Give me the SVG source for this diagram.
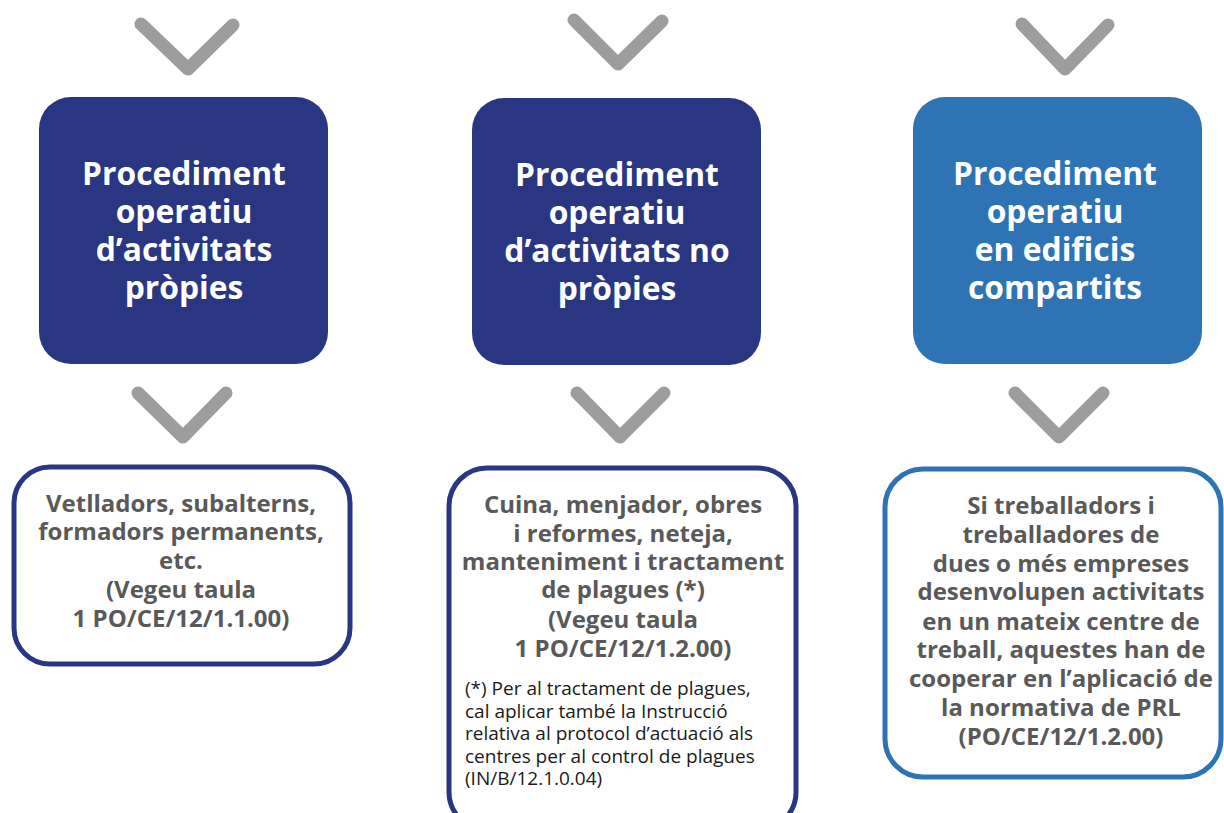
<svg xmlns="http://www.w3.org/2000/svg" width="1224" height="813" viewBox="0 0 1224 813">
<style>
.chev{fill:none;stroke:#9d9d9c;stroke-width:13;stroke-linecap:round;stroke-linejoin:round}
.dark{fill:#293682}
.light{fill:#2e74b5}
.ob{fill:#ffffff;stroke-width:5}
.t{font-family:"Open Sans","Noto Sans","Liberation Sans",sans-serif;font-weight:700;fill:#ffffff;font-size:31.8px;text-anchor:middle}
.b{font-family:"Open Sans","Noto Sans","Liberation Sans",sans-serif;font-weight:700;fill:#595959;font-size:24px;text-anchor:middle}
.n{font-family:"Open Sans","Noto Sans","Liberation Sans",sans-serif;font-weight:400;fill:#1a1a1a;font-size:19px}
</style>
<rect width="1224" height="813" fill="#ffffff"/>
<g id="connectors">
<polyline class="chev" points="141,24 188,69 233,25"/>
<polyline class="chev" points="574,20 618,64 662,21"/>
<polyline class="chev" points="1022,24 1065,69 1108,25"/>
<polyline class="chev" points="138,393 183,437 226,393"/>
<polyline class="chev" points="577,393 620,437 664,393"/>
<polyline class="chev" points="1015,393 1059,437 1103,393"/>
</g>
<g id="node-propies">
<rect class="dark" x="39" y="97" width="289" height="267" rx="32"/>
<text class="t" x="184" y="185">Procediment</text>
<text class="t" x="184" y="223">operatiu</text>
<text class="t" x="184" y="261">d’activitats</text>
<text class="t" x="184" y="299">pròpies</text>
</g>
<g id="node-no-propies">
<rect class="dark" x="472" y="98" width="289" height="267" rx="32"/>
<text class="t" x="617" y="186">Procediment</text>
<text class="t" x="617" y="224">operatiu</text>
<text class="t" x="617" y="262">d’activitats no</text>
<text class="t" x="617" y="300">pròpies</text>
</g>
<g id="node-compartits">
<rect class="light" x="913" y="97" width="289" height="267" rx="32"/>
<text class="t" x="1055" y="185">Procediment</text>
<text class="t" x="1055" y="223">operatiu</text>
<text class="t" x="1055" y="261">en edificis</text>
<text class="t" x="1055" y="299">compartits</text>
</g>
<g id="node-vetlladors">
<rect class="ob" x="14" y="467" width="336" height="197" rx="36" stroke="#293682"/>
<text class="b" x="181" y="512">Vetlladors, subalterns,</text>
<text class="b" x="181" y="540">formadors permanents,</text>
<text class="b" x="181" y="569">etc.</text>
<text class="b" x="181" y="598">(Vegeu taula</text>
<text class="b" x="181" y="627">1 PO/CE/12/1.1.00)</text>
</g>
<g id="node-cuina">
<rect class="ob" x="449" y="468" width="347" height="362" rx="38" stroke="#293682"/>
<text class="b" x="623" y="513">Cuina, menjador, obres</text>
<text class="b" x="623" y="542">i reformes, neteja,</text>
<text class="b" x="623" y="570">manteniment i tractament</text>
<text class="b" x="623" y="598">de plagues (*)</text>
<text class="b" x="623" y="628">(Vegeu taula</text>
<text class="b" x="623" y="657">1 PO/CE/12/1.2.00)</text>
<text class="n" x="465" y="695">(*) Per al tractament de plagues,</text>
<text class="n" x="465" y="718">cal aplicar també la Instrucció</text>
<text class="n" x="465" y="740">relativa al protocol d’actuació als</text>
<text class="n" x="465" y="763">centres per al control de plagues</text>
<text class="n" x="465" y="785">(IN/B/12.1.0.04)</text>
</g>
<g id="node-edificis">
<rect class="ob" x="885" y="469" width="336" height="308" rx="38" stroke="#2e74b5"/>
<text class="b" x="1061" y="514">Si treballadors i</text>
<text class="b" x="1061" y="543">treballadores de</text>
<text class="b" x="1061" y="572">dues o més empreses</text>
<text class="b" x="1061" y="600">desenvolupen activitats</text>
<text class="b" x="1061" y="630">en un mateix centre de</text>
<text class="b" x="1061" y="658">treball, aquestes han de</text>
<text class="b" x="1061" y="687">cooperar en l’aplicació de</text>
<text class="b" x="1061" y="716">la normativa de PRL</text>
<text class="b" x="1061" y="745">(PO/CE/12/1.2.00)</text>
</g>
</svg>
